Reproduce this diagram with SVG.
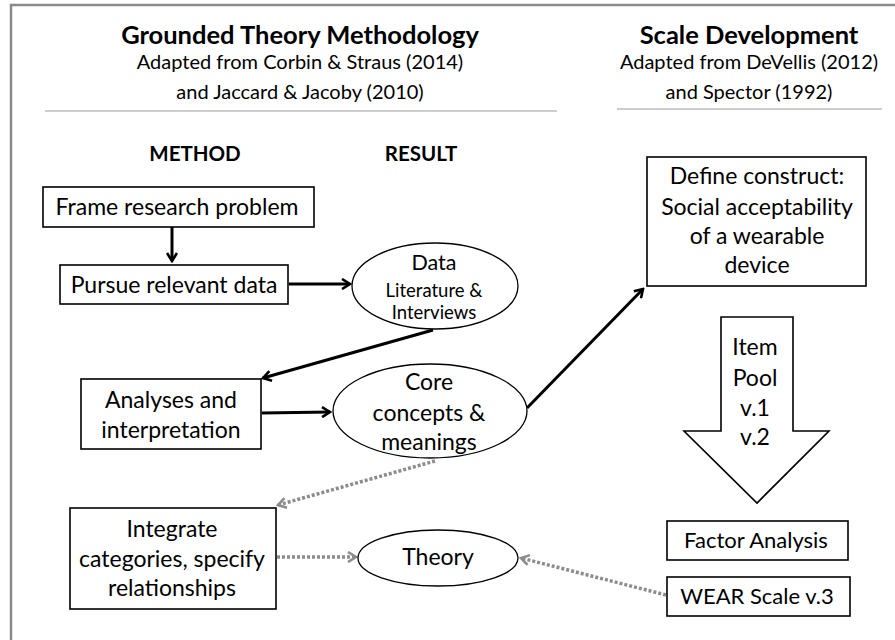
<svg xmlns="http://www.w3.org/2000/svg" width="895" height="640" viewBox="0 0 895 640">
  <style>
    text { font-family: Lato, "Open Sans", "Liberation Sans", sans-serif; fill: #000; text-anchor: middle; }
    .title { font-size: 25.5px; font-weight: bold; }
    .sub { font-size: 20px; }
    .head { font-size: 20.5px; font-weight: bold; }
    .lbl { font-size: 23px; }
    .mid { font-size: 21.5px; }
    .tight { font-size: 22px; }
    .small { font-size: 18.5px; }
    .box { fill: #fff; stroke: #000; stroke-width: 1.6; }
    .oval { fill: #fff; stroke: #000; stroke-width: 1.3; }
    .rule { stroke: #bdbdbd; stroke-width: 1.5; }
    .solid { fill: none; stroke: #000; stroke-width: 3; }
    .dotted { fill: none; stroke: #8c8c8c; stroke-width: 3.5; stroke-dasharray: 3 2; }
  </style>
  <defs>
    <marker id="head-black" viewBox="0 0 12 12" refX="10" refY="6" markerWidth="12" markerHeight="12" markerUnits="userSpaceOnUse" orient="auto">
      <path d="M2,1 L10,6 L2,11" fill="none" stroke="#000" stroke-width="2.6"/>
    </marker>
    <marker id="head-grey" viewBox="0 0 12 12" refX="10" refY="6" markerWidth="12" markerHeight="12" markerUnits="userSpaceOnUse" orient="auto">
      <path d="M2,1 L10,6 L2,11" fill="none" stroke="#8c8c8c" stroke-width="2.6"/>
    </marker>
  </defs>

  <rect width="895" height="640" fill="#fff"/>
  <!-- outer frame (top and left edges) -->
  <path d="M11,640 L11,5 L895,5" fill="none" stroke="#8a8a8a" stroke-width="2.5"/>

  <!-- column headings -->
  <g id="heading-gtm">
    <text class="title" x="300" y="44">Grounded Theory Methodology</text>
    <text class="sub" x="300" y="69">Adapted from Corbin &amp; Straus (2014)</text>
    <text class="sub" x="300" y="99">and Jaccard &amp; Jacoby (2010)</text>
    <line class="rule" x1="45" y1="111" x2="557" y2="111"/>
  </g>
  <g id="heading-scale">
    <text class="title" x="749" y="44">Scale Development</text>
    <text class="sub" x="749" y="69">Adapted from DeVellis (2012)</text>
    <text class="sub" x="749" y="99">and Spector (1992)</text>
    <line class="rule" x1="617" y1="109" x2="882" y2="109"/>
  </g>
  <g id="col-labels">
    <text class="head" x="195" y="161">METHOD</text>
    <text class="head" x="421" y="161">RESULT</text>
  </g>

  <!-- connectors -->
  <g id="connectors">
    <line class="solid" x1="172" y1="227" x2="172" y2="261" marker-end="url(#head-black)"/>
    <line class="solid" x1="289" y1="284" x2="350" y2="284" marker-end="url(#head-black)"/>
    <line class="solid" x1="433" y1="330" x2="263" y2="378" marker-end="url(#head-black)"/>
    <line class="solid" x1="262" y1="413" x2="330" y2="412" marker-end="url(#head-black)"/>
    <line class="solid" x1="527" y1="408" x2="643" y2="289" marker-end="url(#head-black)"/>
    <line class="dotted" x1="435" y1="461" x2="278" y2="505" marker-end="url(#head-grey)"/>
    <line class="dotted" x1="277" y1="557" x2="356" y2="557" marker-end="url(#head-grey)"/>
    <line class="dotted" x1="666" y1="595" x2="521" y2="558" marker-end="url(#head-grey)"/>
  </g>

  <!-- method column -->
  <g id="frame-problem">
    <rect class="box" x="43" y="187" width="271" height="40"/>
    <text class="lbl" x="177" y="215">Frame research problem</text>
  </g>
  <g id="pursue-data">
    <rect class="box" x="60" y="265" width="228" height="39"/>
    <text class="lbl" x="174" y="293">Pursue relevant data</text>
  </g>
  <g id="analyses">
    <rect class="box" x="81" y="379" width="180" height="70"/>
    <text class="lbl" x="171" y="408">Analyses and</text>
    <text class="lbl" x="171" y="438">interpretation</text>
  </g>
  <g id="integrate">
    <rect class="box" x="70" y="508" width="206" height="101"/>
    <text class="lbl" x="172" y="537">Integrate</text>
    <text class="lbl" x="172" y="567">categories, specify</text>
    <text class="lbl" x="172" y="596">relationships</text>
  </g>

  <!-- result column -->
  <g id="data">
    <ellipse class="oval" cx="435" cy="286" rx="83" ry="43"/>
    <text class="mid" x="434" y="270">Data</text>
    <text class="small" x="434" y="297">Literature &amp;</text>
    <text class="small" x="434" y="319">Interviews</text>
  </g>
  <g id="core-concepts">
    <ellipse class="oval" cx="430" cy="411" rx="97" ry="47"/>
    <text class="lbl" x="429" y="390">Core</text>
    <text class="lbl" x="429" y="421">concepts &amp;</text>
    <text class="lbl" x="429" y="450">meanings</text>
  </g>
  <g id="theory">
    <ellipse class="oval" cx="438" cy="558" rx="80" ry="28"/>
    <text class="lbl" x="438" y="565">Theory</text>
  </g>

  <!-- scale development column -->
  <g id="define-construct">
    <rect class="box" x="647" y="157" width="219" height="129"/>
    <text class="lbl" x="757" y="184">Define construct:</text>
    <text class="lbl" x="757" y="215">Social acceptability</text>
    <text class="lbl" x="757" y="244">of a wearable</text>
    <text class="lbl" x="757" y="273">device</text>
  </g>
  <g id="item-pool">
    <polygon class="box" points="721,317 793,317 793,431 829,431 757,503 684,431 721,431"/>
    <text class="lbl" x="755" y="355">Item</text>
    <text class="lbl" x="755" y="386">Pool</text>
    <text class="lbl" x="755" y="416">v.1</text>
    <text class="lbl" x="755" y="445">v.2</text>
  </g>
  <g id="factor-analysis">
    <rect class="box" x="667" y="521" width="181" height="39"/>
    <text class="tight" x="756" y="548">Factor Analysis</text>
  </g>
  <g id="wear-scale">
    <rect class="box" x="667" y="577" width="183" height="39"/>
    <text class="tight" x="757" y="604">WEAR Scale v.3</text>
  </g>
</svg>
